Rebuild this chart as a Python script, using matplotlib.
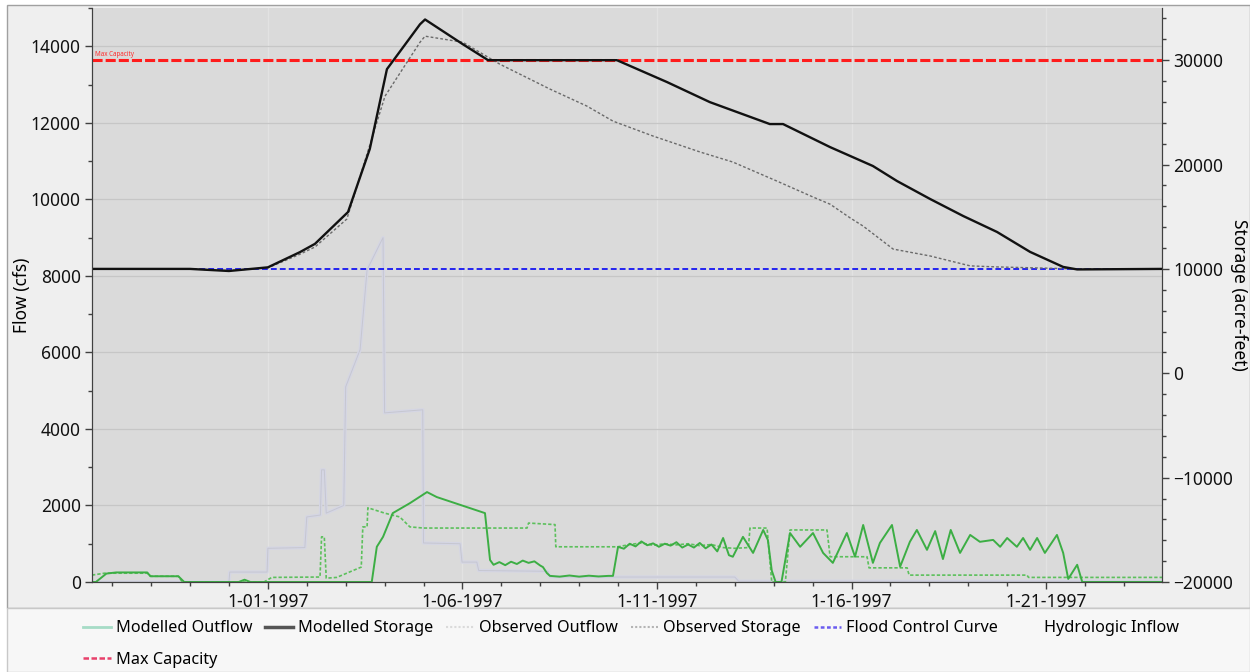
import numpy as np
import pandas as pd
import matplotlib
matplotlib.use("Agg")
import matplotlib.pyplot as plt
import matplotlib.dates as mdates
from matplotlib.lines import Line2D
from matplotlib.patches import Rectangle
from matplotlib.ticker import MultipleLocator, FuncFormatter

plt.rcParams['font.family'] = ['Noto Sans', 'DejaVu Sans']

T0 = pd.Timestamp('1997-01-01')

# storage (acre-feet), time as days after 1 Jan 1997
mod_storage_days = [-4.52, -2.0, -1.0, 0.0, 0.82, 1.21, 2.06, 2.62, 3.06, 3.91, 4.04, 5.01, 5.66,
                    8.97, 10.26, 11.36, 12.90, 13.24, 14.45, 15.55, 16.17, 17.02, 17.87, 18.74,
                    19.59, 20.44, 20.80, 22.98]
mod_storage = [10000, 10000, 9800, 10150, 11600, 12400, 15450, 21500, 29140, 33440, 33900, 31530, 30000,
               30000, 27900, 25980, 23880, 23880, 21670, 19860, 18420, 16700, 15070, 13540,
               11630, 10190, 9950, 10000]

obs_storage_days = [-4.52, -2.0, -1.0, 0.0, 0.82, 1.21, 2.03, 3.01, 3.91, 4.04, 5.01, 5.96, 7.25,
                    8.20, 8.87, 9.90, 11.11, 11.95, 13.08, 14.01, 14.45, 14.96, 15.30, 16.07,
                    17.02, 18.05, 18.74, 20.80, 22.98]
obs_storage = [10000, 10000, 9850, 10100, 11400, 12100, 14780, 26550, 31720, 32300, 31720, 29620, 27230,
               25600, 24160, 22730, 21200, 20240, 18420, 16890, 16200, 14900, 14100, 11900,
               11240, 10290, 10190, 10000, 10000]

flood_control = 10000
max_capacity = 30000

# flows (cfs)
mod_outflow_days = [-4.52, -4.42, -4.15, -3.9, -3.1, -3.02, -2.3, -2.15, -0.75, -0.6, -0.45, 2.67,
                    2.80, 2.96, 3.21, 3.65, 4.09, 4.34, 5.58, 5.71, 5.8, 5.95, 6.1, 6.25, 6.4, 6.55,
                    6.7, 6.85, 7.0, 7.07, 7.17, 7.25, 7.5, 7.75, 8.0, 8.25, 8.5, 8.75, 8.87, 9.0,
                    9.15, 9.3, 9.45, 9.6, 9.75, 9.9, 10.05, 10.2, 10.35, 10.5, 10.65, 10.8, 10.95,
                    11.1, 11.25, 11.4, 11.55, 11.7, 11.85, 11.95, 12.21, 12.47, 12.73, 12.85, 12.95,
                    13.05, 13.2, 13.42, 13.68, 14.01, 14.27, 14.52, 14.88, 15.09, 15.30, 15.55,
                    15.73, 16.04, 16.25, 16.50, 16.68, 16.94, 17.15, 17.35, 17.55, 17.79, 18.05,
                    18.30, 18.64, 18.82, 19.00, 19.25, 19.41, 19.59, 19.77, 19.97, 20.28, 20.44,
                    20.57, 20.80, 20.93, 22.98]
mod_outflow = [0, 0, 220, 250, 250, 150, 150, 0, 0, 60, 0, 0,
               920, 1180, 1800, 2060, 2350, 2220, 1800, 575, 450, 520, 440, 530, 470, 560,
               500, 540, 430, 390, 235, 160, 140, 170, 140, 165, 145, 160, 160, 920,
               870, 1000, 930, 1060, 960, 1010, 920, 1000, 950, 1040, 900, 980, 900,
               1020, 880, 980, 800, 1150, 700, 660, 1180, 760, 1360, 1100, 300,
               0, 0, 1280, 920, 1280, 760, 500, 1280, 660, 1490, 500,
               1020, 1490, 400, 1050, 1360, 840, 1330, 600, 1360, 760, 1230,
               1050, 1100, 920, 1150, 920, 1150, 840, 1150, 760, 1230, 760,
               80, 450, 0, 0]

obs_outflow_days = [-4.52, -4.2, -3.1, -3.0, -2.3, -2.2, -0.1, 0.1, 1.34, 1.38, 1.45, 1.5, 1.77,
                    2.40, 2.44, 2.55, 2.57, 3.0, 3.39, 3.65, 4.0, 6.66, 6.7, 7.38, 7.40, 9.0,
                    9.3, 9.6, 9.9, 10.2, 10.5, 10.8, 11.1, 11.4, 11.7, 12.0, 12.35, 12.39, 12.83,
                    12.95, 13.3, 13.42, 14.37, 14.45, 15.40, 15.45, 16.43, 16.48, 19.51, 19.55, 22.98]
obs_outflow = [180, 230, 230, 150, 150, 0, 0, 120, 130, 1180, 1180, 100, 120,
               390, 1440, 1440, 1940, 1800, 1700, 1440, 1410, 1410, 1540, 1500, 920, 920,
               980, 1020, 960, 1000, 970, 1000, 950, 980, 900, 880, 900, 1410, 1410,
               0, 0, 1360, 1360, 660, 660, 370, 370, 180, 180, 120, 120]

inflow_days = [-4.52, -1.0, -0.98, -0.02, 0.0, 0.95, 1.0, 1.35, 1.38, 1.45, 1.5, 1.95, 2.0, 2.37,
               2.55, 2.96, 3.0, 3.98, 4.0, 4.94, 4.99, 5.37, 5.42, 7.2, 7.25, 12.0, 12.1, 22.98]
inflow = [0, 0, 260, 260, 880, 900, 1700, 1750, 2930, 2930, 1800, 2000, 5100, 6070,
          8160, 9000, 4420, 4500, 1020, 1000, 520, 520, 300, 280, 130, 130, 20, 20]

x_start, x_end = -4.52, 22.98


def to_time(days):
    return (T0 + pd.to_timedelta(np.asarray(days, dtype=float), unit='D')).to_numpy()


fig = plt.figure(figsize=(12.5, 6.72), dpi=100, facecolor='white')

# chart frame + legend panel
fig.patches.append(Rectangle((7 / 1250, 64 / 672), 1243 / 1250, 603 / 672, transform=fig.transFigure,
                             facecolor='#efefef', edgecolor='#a0a0a0', lw=1, zorder=-10))
fig.patches.append(Rectangle((7 / 1250, 0), 1243 / 1250, 64 / 672, transform=fig.transFigure,
                             facecolor='#f7f7f7', edgecolor='#c8c8c8', lw=1, zorder=-10))

ax = fig.add_axes([92 / 1250, 90 / 672, 1070 / 1250, 574 / 672])
ax.set_facecolor('#dadada')
ax2 = ax.twinx()

# hydrologic inflow is drawn very faint
ax.plot(to_time(inflow_days), inflow, color='#d5d6e4', lw=2.4)
ax.plot(to_time(inflow_days), inflow, color='#c6c7d1', lw=0.7)
ax.plot(to_time(obs_outflow_days), obs_outflow, color='#5cc05c', lw=1.2, ls=(0, (2, 1.2)))
ax.plot(to_time(mod_outflow_days), mod_outflow, color='#3cae44', lw=1.4)

ax2.axhline(max_capacity, color='#ff1c1c', lw=2.2, ls=(0, (3.3, 1.0)))
ax2.axhline(flood_control, color='#2424f0', lw=1.4, ls=(0, (3.0, 1.6)))
ax2.plot(to_time(obs_storage_days), obs_storage, color='#6a6a6a', lw=1.0, ls=(0, (2, 1.5)))
ax2.plot(to_time(mod_storage_days), mod_storage, color='#111111', lw=1.7)
ax2.text(0.003, max_capacity + 250, 'Max Capacity', transform=ax2.get_yaxis_transform(),
         fontsize=4.5, color='#ff2a2a', va='bottom', ha='left')

ax.set_xlim(to_time([x_start])[0], to_time([x_end])[0])
ax.set_ylim(0, 15000)
ax2.set_ylim(-20000, 35000)

ax.xaxis.set_major_locator(mdates.DayLocator(bymonthday=[1, 6, 11, 16, 21]))
ax.xaxis.set_minor_locator(mdates.DayLocator())


def date_label(v, pos):
    d = mdates.num2date(v)
    return f"{d.month}-{d.day:02d}-{d.year}"


ax.xaxis.set_major_formatter(FuncFormatter(date_label))
ax.yaxis.set_major_locator(MultipleLocator(2000))
ax.yaxis.set_minor_locator(MultipleLocator(1000))
ax2.yaxis.set_major_locator(MultipleLocator(10000))
ax2.yaxis.set_minor_locator(MultipleLocator(2000))

ax.set_axisbelow(True)
ax.grid(axis='y', which='major', color='#c6c6c6', lw=0.9)
ax.grid(axis='x', which='major', color='#e2e2e2', lw=1.0)

for a in (ax, ax2):
    a.tick_params(which='major', direction='out', length=5, width=1, color='#404040',
                  labelsize=12.5, labelcolor='#111111', pad=3)
    a.tick_params(which='minor', direction='out', length=3, width=1, color='#404040')
    for side in ('left', 'right', 'bottom'):
        a.spines[side].set_color('#404040')
    a.spines['top'].set_visible(False)

ax.set_ylabel('Flow (cfs)', fontsize=12.5, labelpad=0)
ax2.set_ylabel('Storage (acre-feet)', fontsize=12.5, rotation=270, labelpad=11)

# legend, ordered so that the 7th entry drops to a second row under the first
labels = ['Modelled Outflow', 'Max Capacity', 'Modelled Storage', 'Observed Outflow',
          'Observed Storage', 'Flood Control Curve', 'Hydrologic Inflow']
handles = [
    Line2D([], [], color='#a6dcc6', lw=2),
    Line2D([], [], color='#e8406a', lw=1.8, ls=(0, (2.2, 1.0))),
    Line2D([], [], color='#555555', lw=2.5),
    Line2D([], [], color='#dadada', lw=1.5, ls=(0, (1, 1))),
    Line2D([], [], color='#b4b4b4', lw=1.5, ls=(0, (1, 1))),
    Line2D([], [], color='#6a5cf0', lw=1.8, ls=(0, (1.5, 1.0))),
    Line2D([], [], color='none', lw=1),
]
fig.legend(handles, labels, ncol=6, loc='upper left', bbox_to_anchor=(72 / 1250, 1 - 609 / 672),
           frameon=False, fontsize=11.7, handlelength=1.7, handletextpad=0.3,
           columnspacing=0.8, labelspacing=0.95, borderpad=0.2)

fig.savefig('out.png', dpi=100, facecolor=fig.get_facecolor())
